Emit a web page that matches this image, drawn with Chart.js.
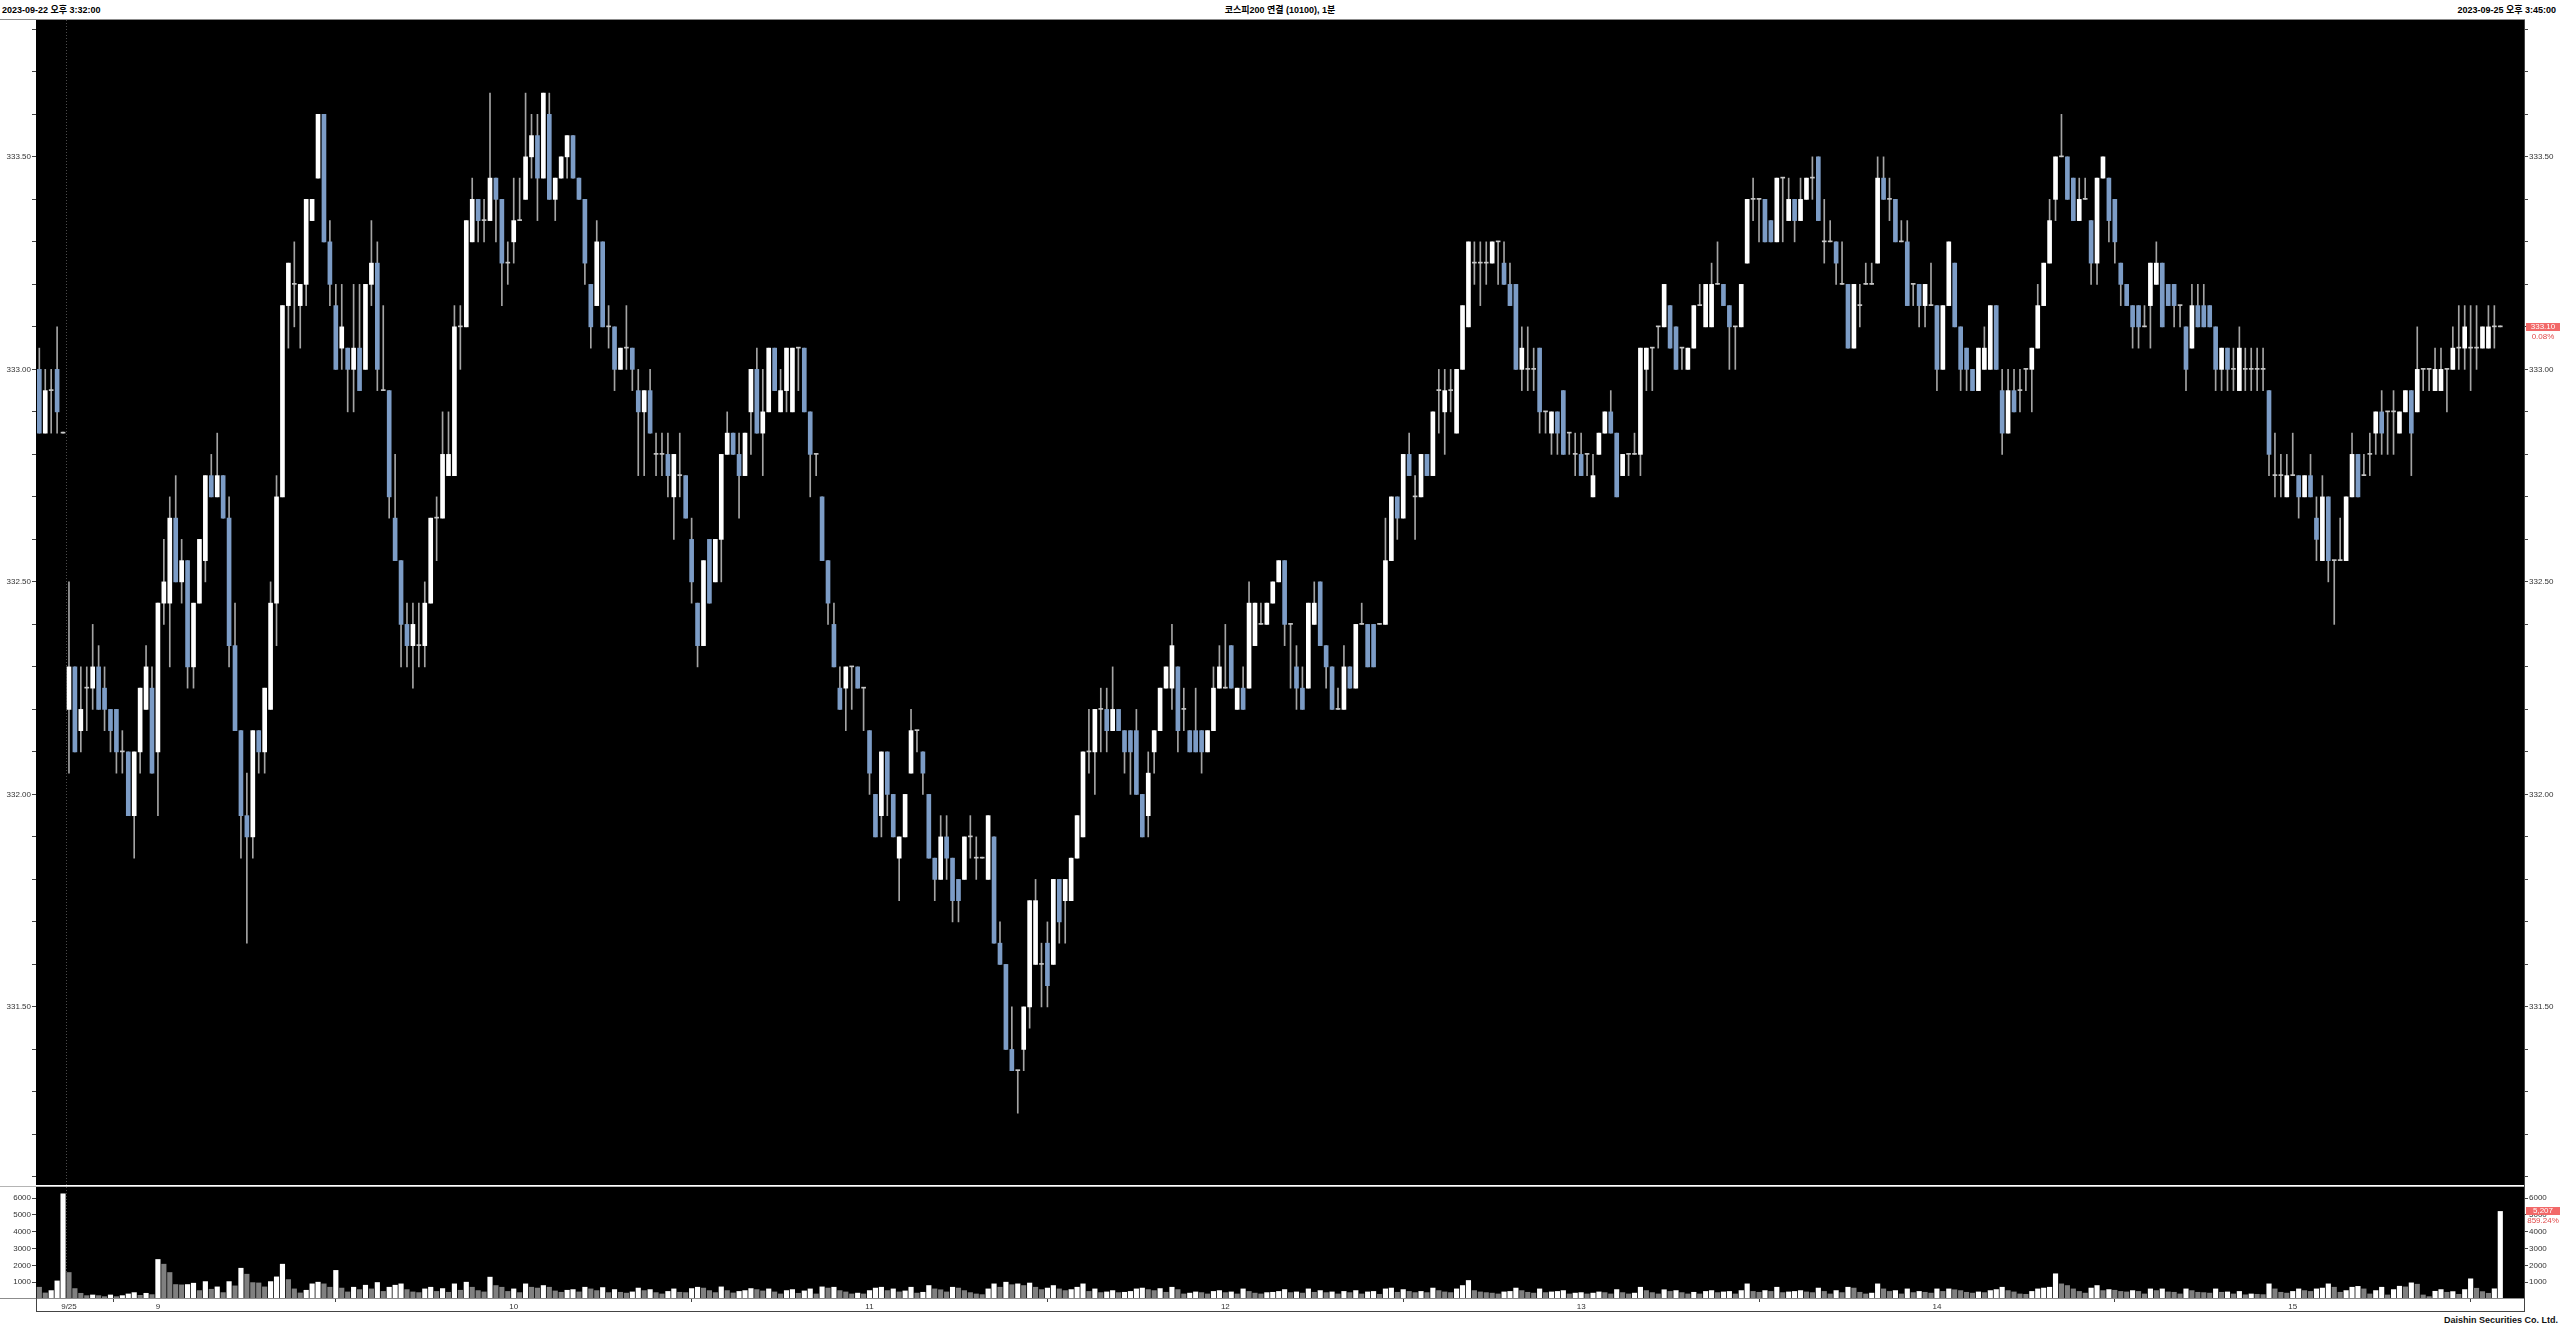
<!DOCTYPE html>
<html lang="ko">
<head>
<meta charset="utf-8">
<title>코스피200 연결 (10100), 1분</title>
<script src="https://cdn.jsdelivr.net/npm/chart.js@4.4.0/dist/chart.umd.min.js"></script>
<style>
  html, body { margin: 0; padding: 0; background: #fff; }
  #page { position: relative; width: 2560px; height: 1328px; overflow: hidden;
          font-family: 'Liberation Sans', 'Noto Sans CJK KR', sans-serif; }
  .hdr { position: absolute; top: 4px; font-size: 9px; font-weight: bold; color: #000;
         white-space: nowrap; line-height: 12px; }
  #hdrL { left: 2px; }
  #hdrC { left: 0; width: 2560px; text-align: center; }
  #hdrR { right: 4px; }
  #priceBox { position: absolute; left: 0; top: 20px; }
  #volBox { position: absolute; left: 0; top: 1187px; }
  .ln { position: absolute; background: #8c8c8c; }
  #footer { position: absolute; right: 2px; top: 1314px; font-size: 9px; font-weight: bold;
            color: #111; line-height: 12px; white-space: nowrap; }
</style>
</head>
<body>
<div id="page">
  <div class="hdr" id="hdrL">2023-09-22 오후 3:32:00</div>
  <div class="hdr" id="hdrC">코스피200 연결 (10100), 1분</div>
  <div class="hdr" id="hdrR">2023-09-25 오후 3:45:00</div>

  <div id="priceBox"><canvas id="priceChart" width="2560" height="1165"></canvas></div>
  <div id="volBox"><canvas id="volChart" width="2560" height="125"></canvas></div>

  <div class="ln" style="left:0;top:19px;width:2525px;height:1px"></div>
  <div class="ln" style="left:0;top:1186px;width:2525px;height:1px;background:#b4b4b4"></div>
  <div class="ln" style="left:0;top:1298px;width:2525px;height:1px"></div>
  <div class="ln" style="left:36px;top:1298px;width:1px;height:14px;background:#444"></div>
  <div class="ln" style="left:36px;top:1311px;width:2489px;height:1px;background:#444"></div>
  <div class="ln" style="left:2524px;top:20px;width:1px;height:1292px;background:#444"></div>

  <div id="footer">Daishin Securities Co. Ltd.</div>
</div>

<script>
// ---- data: 1-minute bars, 9/22 close then the full 9/25 session ----
const prevTimes = ['15:32', '15:33', '15:34', '15:35', '15:45'];
const tickTimes = ['08:45', '09:00', '10:00', '11:00', '12:00', '13:00', '14:00', '15:00'];
const tickLabels = ['9/25', '9', '10', '11', '12', '13', '14', '15'];

const opens = [
  333.00, 332.85, 332.95, 333.00, 332.85, 332.20, 332.30, 332.15, 332.25, 332.25,
  332.30, 332.25, 332.20, 332.20, 332.10, 332.10, 331.95, 332.10, 332.20, 332.25,
  332.10, 332.45, 332.45, 332.65, 332.50, 332.55, 332.30, 332.45, 332.55, 332.75,
  332.70, 332.75, 332.65, 332.35, 332.15, 331.95, 331.90, 332.15, 332.10, 332.20,
  332.45, 332.70, 333.15, 333.20, 333.15, 333.20, 333.35, 333.45, 333.60, 333.30,
  333.15, 333.05, 333.05, 333.00, 333.05, 333.00, 333.20, 333.25, 332.95, 332.95,
  332.65, 332.55, 332.40, 332.35, 332.35, 332.35, 332.45, 332.65, 332.65, 332.75,
  332.75, 333.10, 333.10, 333.30, 333.40, 333.35, 333.35, 333.45, 333.40, 333.25,
  333.30, 333.35, 333.40, 333.50, 333.55, 333.45, 333.60, 333.40, 333.45, 333.50,
  333.55, 333.45, 333.40, 333.20, 333.15, 333.30, 333.10, 333.10, 333.00, 333.05,
  333.05, 332.95, 332.90, 332.95, 332.80, 332.80, 332.80, 332.70, 332.75, 332.75,
  332.60, 332.45, 332.35, 332.60, 332.50, 332.60, 332.80, 332.85, 332.80, 332.75,
  332.90, 333.00, 332.85, 332.90, 333.05, 332.90, 332.95, 332.90, 333.05, 333.05,
  332.90, 332.80, 332.70, 332.55, 332.40, 332.25, 332.25, 332.30, 332.30, 332.25,
  332.15, 332.00, 331.95, 332.10, 332.00, 331.85, 331.90, 332.05, 332.15, 332.10,
  332.00, 331.85, 331.80, 331.90, 331.85, 331.80, 331.80, 331.90, 331.85, 331.85,
  331.80, 331.90, 331.65, 331.60, 331.40, 331.35, 331.40, 331.50, 331.60, 331.60,
  331.65, 331.60, 331.80, 331.75, 331.75, 331.85, 331.90, 332.10, 332.10, 332.20,
  332.20, 332.15, 332.20, 332.15, 332.15, 332.15, 332.00, 331.95, 332.10, 332.15,
  332.25, 332.25, 332.30, 332.20, 332.15, 332.15, 332.15, 332.10, 332.15, 332.25,
  332.25, 332.35, 332.20, 332.25, 332.25, 332.35, 332.40, 332.40, 332.45, 332.50,
  332.55, 332.40, 332.30, 332.25, 332.25, 332.40, 332.50, 332.35, 332.30, 332.20,
  332.20, 332.30, 332.25, 332.40, 332.40, 332.40, 332.40, 332.40, 332.55, 332.70,
  332.65, 332.80, 332.70, 332.70, 332.80, 332.75, 332.95, 332.90, 332.95, 332.85,
  333.00, 333.10, 333.25, 333.25, 333.25, 333.25, 333.30, 333.25, 333.20, 333.20,
  333.00, 333.00, 333.00, 333.05, 332.90, 332.85, 332.90, 332.95, 332.85, 332.80,
  332.80, 332.80, 332.70, 332.80, 332.85, 332.90, 332.85, 332.75, 332.80, 332.80,
  332.80, 333.00, 333.05, 333.10, 333.10, 333.15, 333.10, 333.05, 333.00, 333.05,
  333.15, 333.10, 333.10, 333.20, 333.20, 333.15, 333.10, 333.10, 333.25, 333.40,
  333.40, 333.40, 333.35, 333.30, 333.45, 333.35, 333.40, 333.35, 333.40, 333.45,
  333.50, 333.30, 333.30, 333.30, 333.20, 333.20, 333.05, 333.15, 333.20, 333.20,
  333.25, 333.45, 333.40, 333.40, 333.30, 333.30, 333.20, 333.20, 333.15, 333.15,
  333.15, 333.00, 333.15, 333.25, 333.10, 333.05, 333.00, 332.95, 333.00, 333.00,
  333.15, 332.95, 332.85, 332.95, 332.95, 333.00, 333.00, 333.05, 333.15, 333.25,
  333.40, 333.50, 333.50, 333.45, 333.35, 333.40, 333.35, 333.25, 333.45, 333.45,
  333.40, 333.25, 333.20, 333.15, 333.15, 333.10, 333.15, 333.20, 333.25, 333.20,
  333.20, 333.15, 333.10, 333.05, 333.15, 333.15, 333.15, 333.10, 333.00, 333.05,
  333.00, 332.95, 333.00, 333.00, 333.00, 333.00, 332.95, 332.75, 332.75, 332.70,
  332.75, 332.75, 332.70, 332.75, 332.65, 332.55, 332.70, 332.55, 332.55, 332.55,
  332.70, 332.80, 332.75, 332.80, 332.85, 332.90, 332.90, 332.90, 332.85, 332.90,
  332.95, 332.90, 333.00, 333.00, 332.95, 332.95, 333.00, 333.00, 333.05, 333.05,
  333.05, 333.05, 333.05, 333.05, 333.10, 333.10
];

const highs = [
  333.05, 333.00, 333.00, 333.10, 332.85, 332.50, 332.30, 332.30, 332.30, 332.40,
  332.35, 332.30, 332.20, 332.20, 332.15, 332.10, 332.10, 332.25, 332.35, 332.30,
  332.45, 332.60, 332.70, 332.75, 332.60, 332.55, 332.45, 332.60, 332.75, 332.80,
  332.85, 332.75, 332.70, 332.45, 332.15, 332.05, 332.15, 332.15, 332.25, 332.50,
  332.75, 333.15, 333.25, 333.30, 333.20, 333.40, 333.40, 333.60, 333.60, 333.35,
  333.20, 333.20, 333.05, 333.20, 333.20, 333.20, 333.35, 333.30, 333.15, 332.95,
  332.80, 332.55, 332.45, 332.45, 332.45, 332.50, 332.65, 332.70, 332.90, 332.90,
  333.15, 333.15, 333.35, 333.45, 333.40, 333.40, 333.65, 333.45, 333.40, 333.30,
  333.45, 333.45, 333.65, 333.60, 333.60, 333.65, 333.65, 333.45, 333.50, 333.55,
  333.55, 333.45, 333.40, 333.20, 333.35, 333.30, 333.15, 333.10, 333.05, 333.15,
  333.05, 333.00, 332.95, 333.00, 332.85, 332.85, 332.85, 332.80, 332.85, 332.75,
  332.65, 332.45, 332.55, 332.60, 332.60, 332.80, 332.90, 332.85, 332.85, 332.85,
  333.00, 333.05, 333.00, 333.05, 333.05, 333.00, 333.05, 333.05, 333.05, 333.05,
  332.90, 332.80, 332.70, 332.55, 332.45, 332.30, 332.30, 332.30, 332.30, 332.25,
  332.15, 332.00, 332.10, 332.10, 332.00, 331.90, 332.00, 332.20, 332.15, 332.10,
  332.00, 331.85, 331.95, 331.95, 331.85, 331.80, 331.90, 331.95, 331.90, 331.85,
  331.95, 331.90, 331.70, 331.60, 331.50, 331.35, 331.50, 331.75, 331.80, 331.65,
  331.70, 331.80, 331.80, 331.80, 331.85, 331.95, 332.10, 332.20, 332.20, 332.25,
  332.25, 332.30, 332.20, 332.15, 332.15, 332.20, 332.00, 332.10, 332.15, 332.25,
  332.30, 332.40, 332.30, 332.25, 332.15, 332.25, 332.15, 332.15, 332.30, 332.35,
  332.40, 332.35, 332.25, 332.30, 332.50, 332.45, 332.45, 332.45, 332.50, 332.55,
  332.55, 332.40, 332.35, 332.30, 332.45, 332.50, 332.50, 332.35, 332.30, 332.25,
  332.35, 332.30, 332.40, 332.45, 332.40, 332.40, 332.40, 332.65, 332.70, 332.70,
  332.80, 332.85, 332.75, 332.80, 332.80, 332.90, 333.00, 333.00, 333.00, 333.00,
  333.15, 333.30, 333.30, 333.30, 333.30, 333.30, 333.30, 333.30, 333.25, 333.20,
  333.10, 333.10, 333.05, 333.05, 332.90, 332.90, 332.90, 332.95, 332.85, 332.85,
  332.85, 332.80, 332.80, 332.85, 332.90, 332.95, 332.85, 332.80, 332.80, 332.85,
  333.05, 333.05, 333.05, 333.10, 333.20, 333.15, 333.10, 333.05, 333.05, 333.15,
  333.20, 333.20, 333.25, 333.30, 333.20, 333.15, 333.10, 333.20, 333.40, 333.45,
  333.40, 333.40, 333.35, 333.45, 333.45, 333.45, 333.40, 333.45, 333.45, 333.50,
  333.50, 333.40, 333.35, 333.30, 333.30, 333.20, 333.20, 333.20, 333.25, 333.25,
  333.50, 333.50, 333.45, 333.40, 333.35, 333.35, 333.20, 333.20, 333.20, 333.25,
  333.15, 333.15, 333.30, 333.25, 333.10, 333.05, 333.00, 333.05, 333.10, 333.15,
  333.15, 333.00, 333.00, 333.00, 333.00, 333.00, 333.05, 333.20, 333.25, 333.40,
  333.50, 333.60, 333.50, 333.45, 333.45, 333.45, 333.35, 333.45, 333.50, 333.45,
  333.40, 333.25, 333.20, 333.15, 333.15, 333.15, 333.25, 333.30, 333.25, 333.20,
  333.20, 333.15, 333.10, 333.20, 333.20, 333.20, 333.15, 333.10, 333.05, 333.05,
  333.05, 333.10, 333.05, 333.05, 333.05, 333.05, 332.95, 332.85, 332.80, 332.80,
  332.85, 332.75, 332.75, 332.80, 332.70, 332.75, 332.70, 332.55, 332.65, 332.70,
  332.85, 332.80, 332.80, 332.85, 332.90, 332.95, 332.90, 332.95, 332.90, 332.95,
  332.95, 333.10, 333.00, 333.00, 333.05, 333.05, 333.00, 333.10, 333.15, 333.15,
  333.15, 333.15, 333.10, 333.15, 333.15, 333.10
];

const lows = [
  332.85, 332.85, 332.85, 332.85, 332.85, 332.05, 332.10, 332.10, 332.15, 332.20,
  332.20, 332.15, 332.10, 332.05, 332.05, 331.95, 331.85, 332.05, 332.20, 332.05,
  331.95, 332.40, 332.30, 332.50, 332.45, 332.25, 332.25, 332.45, 332.50, 332.70,
  332.70, 332.65, 332.30, 332.15, 331.85, 331.65, 331.85, 332.05, 332.05, 332.20,
  332.35, 332.70, 333.05, 333.10, 333.05, 333.15, 333.35, 333.45, 333.30, 333.15,
  333.00, 333.00, 332.90, 332.90, 332.95, 333.00, 333.15, 332.95, 332.95, 332.65,
  332.55, 332.30, 332.30, 332.25, 332.30, 332.30, 332.45, 332.55, 332.65, 332.75,
  332.75, 333.00, 333.10, 333.30, 333.30, 333.30, 333.35, 333.30, 333.15, 333.20,
  333.25, 333.35, 333.40, 333.45, 333.35, 333.45, 333.40, 333.35, 333.45, 333.45,
  333.45, 333.40, 333.20, 333.05, 333.15, 333.10, 333.05, 332.95, 333.00, 333.00,
  332.95, 332.75, 332.75, 332.85, 332.75, 332.75, 332.70, 332.60, 332.70, 332.65,
  332.45, 332.30, 332.35, 332.45, 332.50, 332.50, 332.80, 332.80, 332.65, 332.75,
  332.80, 332.85, 332.75, 332.90, 332.95, 332.90, 332.90, 332.90, 332.95, 332.90,
  332.70, 332.75, 332.55, 332.40, 332.30, 332.20, 332.15, 332.20, 332.25, 332.15,
  332.00, 331.90, 331.90, 331.95, 331.90, 331.75, 331.90, 332.05, 332.10, 332.00,
  331.85, 331.75, 331.80, 331.80, 331.70, 331.70, 331.80, 331.85, 331.80, 331.85,
  331.80, 331.65, 331.60, 331.40, 331.35, 331.25, 331.35, 331.45, 331.60, 331.50,
  331.50, 331.60, 331.65, 331.65, 331.75, 331.85, 331.90, 332.05, 332.00, 332.10,
  332.10, 332.15, 332.15, 332.05, 332.00, 332.00, 331.90, 331.90, 332.05, 332.15,
  332.25, 332.20, 332.10, 332.15, 332.10, 332.10, 332.05, 332.10, 332.15, 332.25,
  332.25, 332.25, 332.20, 332.20, 332.25, 332.35, 332.40, 332.40, 332.45, 332.50,
  332.35, 332.25, 332.20, 332.20, 332.25, 332.40, 332.35, 332.25, 332.20, 332.20,
  332.20, 332.25, 332.25, 332.40, 332.30, 332.30, 332.40, 332.40, 332.55, 332.60,
  332.65, 332.75, 332.60, 332.70, 332.75, 332.75, 332.85, 332.80, 332.90, 332.85,
  333.00, 333.10, 333.20, 333.15, 333.20, 333.25, 333.20, 333.20, 333.15, 333.00,
  332.95, 332.95, 332.95, 332.85, 332.85, 332.80, 332.80, 332.80, 332.80, 332.75,
  332.75, 332.75, 332.70, 332.80, 332.85, 332.85, 332.70, 332.75, 332.75, 332.80,
  332.75, 332.95, 332.95, 333.05, 333.10, 333.05, 333.00, 333.00, 333.00, 333.05,
  333.15, 333.10, 333.10, 333.20, 333.15, 333.00, 333.00, 333.10, 333.25, 333.35,
  333.30, 333.30, 333.30, 333.30, 333.30, 333.35, 333.30, 333.35, 333.40, 333.40,
  333.35, 333.25, 333.30, 333.20, 333.20, 333.05, 333.05, 333.10, 333.20, 333.20,
  333.25, 333.40, 333.35, 333.30, 333.30, 333.15, 333.15, 333.10, 333.10, 333.15,
  332.95, 333.00, 333.15, 333.10, 332.95, 332.95, 332.95, 332.95, 333.00, 333.00,
  333.00, 332.80, 332.85, 332.90, 332.90, 332.95, 332.90, 333.05, 333.15, 333.25,
  333.35, 333.50, 333.40, 333.35, 333.35, 333.40, 333.20, 333.20, 333.45, 333.30,
  333.25, 333.15, 333.15, 333.05, 333.05, 333.10, 333.05, 333.20, 333.10, 333.15,
  333.10, 333.10, 332.95, 333.05, 333.10, 333.10, 333.10, 332.95, 332.95, 332.95,
  332.95, 332.95, 332.95, 332.95, 332.95, 332.95, 332.75, 332.70, 332.70, 332.70,
  332.75, 332.65, 332.70, 332.70, 332.55, 332.55, 332.50, 332.40, 332.55, 332.55,
  332.70, 332.70, 332.75, 332.75, 332.80, 332.80, 332.80, 332.80, 332.85, 332.90,
  332.75, 332.90, 332.95, 332.95, 332.95, 332.95, 332.90, 333.00, 333.00, 333.00,
  332.95, 333.00, 333.05, 333.05, 333.05, 333.10
];

const closes = [
  332.85, 332.95, 332.95, 332.90, 332.85, 332.30, 332.10, 332.20, 332.25, 332.30,
  332.20, 332.20, 332.15, 332.10, 332.10, 331.95, 332.10, 332.25, 332.30, 332.05,
  332.45, 332.50, 332.65, 332.50, 332.55, 332.30, 332.45, 332.60, 332.75, 332.70,
  332.75, 332.65, 332.35, 332.15, 331.95, 331.90, 332.15, 332.10, 332.25, 332.45,
  332.70, 333.15, 333.25, 333.20, 333.20, 333.40, 333.40, 333.60, 333.30, 333.20,
  333.00, 333.10, 333.00, 333.05, 332.95, 333.20, 333.25, 333.00, 332.95, 332.70,
  332.55, 332.40, 332.35, 332.40, 332.35, 332.45, 332.65, 332.65, 332.80, 332.80,
  333.10, 333.10, 333.35, 333.40, 333.35, 333.35, 333.45, 333.40, 333.25, 333.25,
  333.35, 333.35, 333.50, 333.55, 333.45, 333.65, 333.40, 333.45, 333.50, 333.55,
  333.45, 333.40, 333.25, 333.10, 333.30, 333.10, 333.10, 333.00, 333.05, 333.05,
  333.00, 332.90, 332.95, 332.85, 332.80, 332.80, 332.75, 332.80, 332.75, 332.65,
  332.50, 332.35, 332.55, 332.45, 332.60, 332.80, 332.85, 332.80, 332.75, 332.85,
  333.00, 332.85, 332.90, 333.05, 332.95, 332.95, 333.05, 333.05, 333.05, 332.90,
  332.80, 332.80, 332.55, 332.45, 332.30, 332.20, 332.30, 332.30, 332.25, 332.25,
  332.05, 331.90, 332.10, 332.00, 331.90, 331.90, 332.00, 332.15, 332.15, 332.05,
  331.85, 331.80, 331.90, 331.85, 331.75, 331.75, 331.90, 331.90, 331.85, 331.85,
  331.95, 331.65, 331.60, 331.40, 331.35, 331.35, 331.50, 331.75, 331.75, 331.60,
  331.55, 331.80, 331.70, 331.80, 331.85, 331.95, 332.10, 332.10, 332.20, 332.20,
  332.15, 332.20, 332.15, 332.10, 332.10, 332.00, 331.90, 332.05, 332.15, 332.25,
  332.30, 332.35, 332.15, 332.20, 332.10, 332.10, 332.10, 332.15, 332.25, 332.30,
  332.25, 332.25, 332.25, 332.20, 332.45, 332.45, 332.40, 332.45, 332.50, 332.55,
  332.40, 332.40, 332.25, 332.20, 332.45, 332.45, 332.35, 332.30, 332.20, 332.20,
  332.30, 332.25, 332.40, 332.40, 332.30, 332.30, 332.40, 332.55, 332.70, 332.65,
  332.80, 332.75, 332.70, 332.80, 332.75, 332.90, 332.95, 332.95, 332.95, 333.00,
  333.15, 333.30, 333.25, 333.25, 333.25, 333.30, 333.30, 333.20, 333.15, 333.00,
  333.05, 333.00, 333.00, 332.90, 332.90, 332.90, 332.85, 332.80, 332.85, 332.80,
  332.75, 332.80, 332.75, 332.85, 332.90, 332.85, 332.70, 332.80, 332.80, 332.80,
  333.05, 333.05, 333.05, 333.10, 333.20, 333.05, 333.00, 333.05, 333.05, 333.15,
  333.15, 333.20, 333.20, 333.20, 333.15, 333.10, 333.10, 333.20, 333.40, 333.40,
  333.40, 333.30, 333.30, 333.45, 333.45, 333.40, 333.35, 333.40, 333.45, 333.45,
  333.35, 333.30, 333.30, 333.25, 333.20, 333.05, 333.20, 333.15, 333.20, 333.20,
  333.45, 333.40, 333.40, 333.30, 333.30, 333.15, 333.20, 333.15, 333.20, 333.15,
  333.00, 333.15, 333.30, 333.10, 333.00, 333.00, 332.95, 333.05, 333.05, 333.15,
  333.00, 332.85, 332.95, 332.90, 332.95, 333.00, 333.05, 333.15, 333.25, 333.35,
  333.50, 333.50, 333.40, 333.35, 333.40, 333.40, 333.25, 333.45, 333.50, 333.35,
  333.30, 333.20, 333.15, 333.10, 333.10, 333.10, 333.25, 333.25, 333.10, 333.15,
  333.15, 333.15, 333.00, 333.15, 333.10, 333.10, 333.10, 333.00, 333.05, 333.00,
  333.00, 333.05, 333.00, 333.00, 333.00, 333.00, 332.80, 332.75, 332.75, 332.75,
  332.75, 332.70, 332.75, 332.70, 332.60, 332.70, 332.55, 332.55, 332.55, 332.70,
  332.80, 332.70, 332.75, 332.80, 332.90, 332.85, 332.90, 332.90, 332.90, 332.95,
  332.85, 333.00, 333.00, 333.00, 333.00, 333.00, 333.00, 333.05, 333.05, 333.10,
  333.05, 333.05, 333.10, 333.10, 333.10, 333.10
];

const volumes = [
  700, 360, 500, 1075, 6255, 1575, 620, 340, 200, 240,
  200, 140, 240, 140, 200, 300, 380, 220, 340, 260,
  2350, 2070, 1575, 860, 840, 860, 940, 500, 1035, 580,
  720, 380, 1035, 780, 1830, 1475, 975, 955, 720, 1035,
  1315, 2070, 1155, 600, 360, 520, 900, 1000, 900, 700,
  1700, 650, 420, 700, 560, 820, 600, 980, 450, 700,
  820, 900, 560, 420, 380, 600, 700, 450, 620, 400,
  900, 520, 1000, 700, 500, 420, 1300, 800, 700, 450,
  600, 380, 900, 700, 650, 800, 700, 480, 400, 520,
  560, 420, 700, 600, 500, 680, 380, 560, 400, 350,
  420, 650, 500, 560, 380, 300, 450, 600, 400, 380,
  620, 700, 650, 500, 380, 720, 500, 360, 450, 500,
  620, 560, 480, 600, 420, 300, 500, 560, 340, 480,
  600, 300, 720, 650, 700, 500, 420, 300, 350, 300,
  500, 650, 700, 500, 600, 420, 480, 700, 350, 400,
  800, 600, 550, 420, 700, 650, 500, 380, 300, 260,
  600, 900, 700, 1000, 850, 900, 800, 950, 700, 560,
  650, 800, 600, 500, 560, 700, 900, 450, 600, 380,
  420, 500, 380, 400, 450, 600, 650, 560, 500, 620,
  400, 700, 560, 300, 350, 420, 380, 300, 450, 500,
  380, 420, 300, 600, 450, 350, 300, 380, 400, 450,
  560, 380, 420, 350, 600, 400, 500, 380, 420, 300,
  450, 380, 500, 300, 420, 450, 280, 600, 650, 400,
  560, 450, 380, 450, 380, 650, 500, 420, 380, 600,
  800, 1100, 500, 420, 380, 350, 300, 420, 450, 650,
  500, 400, 350, 600, 380, 420, 450, 500, 300, 350,
  380, 300, 350, 420, 380, 300, 560, 380, 300, 350,
  700, 500, 380, 300, 550, 450, 500, 380, 300, 400,
  300, 450, 500, 380, 420, 450, 300, 500, 900, 450,
  400, 500, 450, 700, 380, 420, 450, 500, 420, 380,
  650, 450, 300, 500, 380, 700, 650, 400, 300, 350,
  900, 600, 450, 500, 300, 600, 380, 450, 400, 350,
  600, 450, 600, 550, 500, 400, 350, 420, 380, 500,
  560, 700, 500, 420, 300, 280, 450, 600, 650, 700,
  1500, 900, 800, 600, 450, 350, 650, 800, 500, 560,
  520, 450, 420, 500, 450, 300, 600, 500, 600, 420,
  400, 300, 600, 500, 400, 380, 350, 600, 400, 420,
  300, 450, 250, 300, 280, 260, 900, 600, 400, 350,
  450, 600, 500, 450, 600, 650, 900, 700, 400, 500,
  700, 750, 600, 300, 500, 700, 240, 560, 760, 720,
  960, 880, 240, 140, 460, 560, 400, 440, 280, 560,
  1200, 640, 440, 340, 606, 5207
];

const priceLabels = [331.5, 332.0, 332.5, 333.0, 333.5];
const volumeLabels = [1000, 2000, 3000, 4000, 5000, 6000];

// ---- look ----
const COLORS = {
  up: '#ffffff',
  down: '#7c9cc6',
  flat: '#c8c8c8',
  wick: '#a4a4a4',
  volUp: '#ffffff',
  volDown: '#808080',
  axisText: '#333333',
  tick: '#444444',
  tag: '#f26868',
  tagText: '#e04848',
  separator: '#4a4a4a',
};
const TICK_FONT = { size: 8, family: "'Liberation Sans Narrow', 'Liberation Sans', Arial, sans-serif" };

// minute labels for every bar (9/22 tail + 9/25 regular session + closing auction)
const dayTimes = [];
for (let m = 8 * 60 + 45; m < 15 * 60 + 35; m++) {
  dayTimes.push(String(Math.floor(m / 60)).padStart(2, '0') + ':' + String(m % 60).padStart(2, '0'));
}
dayTimes.push('15:45');
const times = prevTimes.concat(dayTimes);
const sessionStart = prevTimes.length;
const tickIndex = tickTimes.map(t => sessionStart + dayTimes.indexOf(t));

const X_MIN = -0.56;
const X_MAX = 419.0;
const PRICE_MIN = 331.081;
const PRICE_MAX = 333.822;
const VOL_MAX = 6660;

const priceMinorTicks = [];
for (let k = Math.ceil(PRICE_MIN * 10); k <= Math.floor(PRICE_MAX * 10); k++) priceMinorTicks.push(k / 10);

function fixWidth(w) {
  return axis => {
    axis.width = w;
    axis.paddingTop = 0;
    axis.paddingBottom = 0;
  };
}

function yAxis(position, min, max, tickValues, label) {
  return {
    type: 'linear',
    position,
    min,
    max,
    afterBuildTicks: axis => { axis.ticks = tickValues.map(v => ({ value: v })); },
    afterFit: fixWidth(36),
    border: { display: false },
    grid: { drawOnChartArea: false, tickLength: 4, color: COLORS.tick },
    ticks: {
      autoSkip: false,
      padding: 1,
      color: COLORS.axisText,
      font: TICK_FONT,
      callback: label,
    },
  };
}

const priceTickLabel = v => (priceLabels.some(p => Math.abs(p - v) < 1e-6) ? v.toFixed(2) : '');
const volTickLabel = v => String(v);

function candleColor(i) {
  if (closes[i] > opens[i]) return COLORS.up;
  if (closes[i] < opens[i]) return COLORS.down;
  return COLORS.flat;
}

function volColor(i) {
  return i > 0 && volumes[i] > volumes[i - 1] ? COLORS.volUp : COLORS.volDown;
}

function drawSeparator(chart) {
  const { ctx, chartArea, scales } = chart;
  const x = Math.round(scales.x.getPixelForValue(sessionStart - 0.5)) + 0.5;
  ctx.save();
  ctx.strokeStyle = COLORS.separator;
  ctx.lineWidth = 1;
  ctx.setLineDash([1, 2]);
  ctx.beginPath();
  ctx.moveTo(x, chartArea.top);
  ctx.lineTo(x, chartArea.bottom);
  ctx.stroke();
  ctx.restore();
}

function drawTag(chart, value, text, sub) {
  const { ctx, chartArea, scales } = chart;
  const y = Math.round(scales.y.getPixelForValue(value));
  const x0 = chartArea.right + 2;
  ctx.save();
  ctx.fillStyle = COLORS.tag;
  ctx.fillRect(x0, y - 4, chart.width - x0, 8);
  ctx.font = "8px 'Liberation Sans Narrow', 'Liberation Sans', Arial, sans-serif";
  ctx.textAlign = 'center';
  ctx.textBaseline = 'middle';
  ctx.fillStyle = '#ffffff';
  const cx = (x0 + chart.width) / 2;
  ctx.fillText(text, cx, y);
  ctx.fillStyle = COLORS.tagText;
  ctx.fillText(sub, cx, y + 10);
  ctx.restore();
}

const last = closes.length - 1;
const prevClose = closes[sessionStart - 1];
const pricePct = ((closes[last] - prevClose) / prevClose * 100).toFixed(2) + '%';
const volPct = (volumes[last] / volumes[last - 1] * 100).toFixed(2) + '%';

const pricePlugin = {
  id: 'priceExtras',
  afterDatasetsDraw(chart) {
    drawSeparator(chart);
    drawTag(chart, closes[last], closes[last].toFixed(2), pricePct);
  },
};

const volPlugin = {
  id: 'volExtras',
  afterDatasetsDraw(chart) {
    drawSeparator(chart);
    drawTag(chart, volumes[last], volumes[last].toLocaleString('en-US'), volPct);
  },
};

const chartBg = {
  id: 'chartBg',
  beforeDraw(chart) {
    const { ctx, chartArea } = chart;
    ctx.save();
    ctx.fillStyle = '#000000';
    ctx.fillRect(chartArea.left, chartArea.top, chartArea.right - chartArea.left, chartArea.bottom - chartArea.top);
    ctx.restore();
  },
};

const common = {
  responsive: false,
  animation: false,
  devicePixelRatio: 1,
  events: [],
  layout: { padding: 0 },
  plugins: { legend: { display: false }, tooltip: { enabled: false } },
};

new Chart(document.getElementById('priceChart'), {
  type: 'bar',
  data: {
    datasets: [
      {
        label: 'wick',
        data: highs.map((h, i) => ({ x: i, y: [lows[i], h] })),
        backgroundColor: COLORS.wick,
        barThickness: 1,
        minBarLength: 1,
        grouped: false,
        order: 2,
      },
      {
        label: 'body',
        data: opens.map((o, i) => ({ x: i, y: [o, closes[i]] })),
        backgroundColor: ctx => candleColor(ctx.dataIndex),
        barThickness: 4,
        minBarLength: 1,
        grouped: false,
        order: 1,
      },
    ],
  },
  options: {
    ...common,
    scales: {
      x: { type: 'linear', min: X_MIN, max: X_MAX, offset: false, display: false },
      y: yAxis('left', PRICE_MIN, PRICE_MAX, priceMinorTicks, priceTickLabel),
      y2: yAxis('right', PRICE_MIN, PRICE_MAX, priceMinorTicks, priceTickLabel),
    },
  },
  plugins: [chartBg, pricePlugin],
});

new Chart(document.getElementById('volChart'), {
  type: 'bar',
  data: {
    datasets: [{
      label: 'volume',
      data: volumes.map((v, i) => ({ x: i, y: v })),
      backgroundColor: ctx => volColor(ctx.dataIndex),
      barThickness: 4.5,
      grouped: false,
    }],
  },
  options: {
    ...common,
    scales: {
      x: {
        type: 'linear',
        min: X_MIN,
        max: X_MAX,
        offset: false,
        afterBuildTicks: axis => { axis.ticks = tickIndex.map(v => ({ value: v })); },
        afterFit: axis => { axis.height = 13; axis.paddingLeft = 0; axis.paddingRight = 0; },
        border: { display: false },
        grid: { drawOnChartArea: false, tickLength: 3, color: COLORS.tick },
        ticks: {
          autoSkip: false,
          maxRotation: 0,
          padding: 0,
          color: COLORS.axisText,
          font: TICK_FONT,
          callback: (v, idx) => tickLabels[idx],
        },
      },
      y: yAxis('left', 0, VOL_MAX, volumeLabels, volTickLabel),
      y2: yAxis('right', 0, VOL_MAX, volumeLabels, volTickLabel),
    },
  },
  plugins: [chartBg, volPlugin],
});
</script>
</body>
</html>
